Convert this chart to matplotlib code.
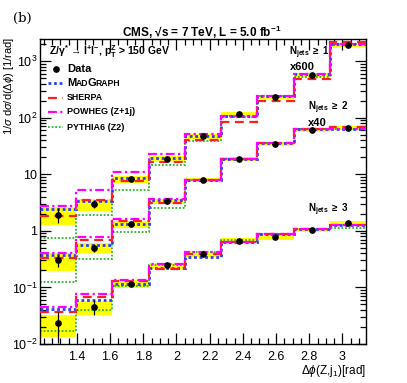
import numpy as np
import matplotlib.pyplot as plt
from matplotlib.ticker import MultipleLocator, LogLocator, NullFormatter

# bin edges in delta phi [rad]
edges = [1.178, 1.396, 1.614, 1.833, 2.051, 2.269, 2.487, 2.705, 2.923, 3.1416]

# Njets >= 1 (x600)
data1 = [1.94, 2.92, 8.1, 18.8, 47, 115, 233, 565, 1920]
unc1 = [0.35, 0.23, 0.13, 0.12, 0.10, 0.08, 0.08, 0.08, 0.08]
stat1 = [0.30, 0.15, 0.05, 0.04, 0.03, 0.03, 0.03, 0.03, 0.03]
mg1 = [2.38, 3.43, 8.7, 19, 47, 107, 243, 590, 2000]
sh1 = [1.79, 3.5, 7.6, 16.6, 41, 85, 193, 480, 2140]
pw1 = [2.7, 5.2, 11, 23, 52, 107, 243, 590, 2000]
py1 = [0.76, 1.87, 5.2, 14.3, 38.6, 104, 243, 513, 2000]

# Njets >= 2 (x40)
data2 = [0.30, 0.50, 1.32, 3.33, 7.8, 18.3, 33.7, 60.5, 66]
unc2 = [0.35, 0.20, 0.15, 0.10, 0.08, 0.08, 0.08, 0.08, 0.08]
stat2 = [0.25, 0.15, 0.06, 0.04, 0.03, 0.03, 0.03, 0.03, 0.03]
mg2 = [0.38, 0.57, 1.32, 3.5, 8.0, 18.3, 36, 64, 64]
sh2 = [0.33, 0.68, 1.48, 3.1, 8.0, 18.3, 36, 62, 68]
pw2 = [0.41, 0.78, 1.64, 3.7, 8.0, 18.3, 36, 62, 64]
py2 = [0.127, 0.32, 0.94, 2.55, 8.0, 18.3, 36, 62, 64]

# Njets >= 3
data3 = [0.0233, 0.0457, 0.116, 0.245, 0.39, 0.67, 0.77, 1.05, 1.38]
unc3 = [0.42, 0.28, 0.15, 0.12, 0.10, 0.10, 0.10, 0.08, 0.10]
stat3 = [0.55, 0.30, 0.08, 0.05, 0.04, 0.04, 0.04, 0.04, 0.04]
mg3 = [0.041, 0.059, 0.114, 0.22, 0.35, 0.63, 0.89, 1.09, 1.25]
sh3 = [0.037, 0.069, 0.131, 0.21, 0.39, 0.63, 0.89, 1.09, 1.25]
pw3 = [0.045, 0.076, 0.136, 0.26, 0.42, 0.63, 0.89, 1.09, 1.25]
py3 = [0.017, 0.040, 0.104, 0.245, 0.43, 0.70, 0.89, 1.09, 1.10]

xticks = [1.4, 1.6, 1.8, 2.0, 2.2, 2.4, 2.6, 2.8, 3.0]
xticklabels = ['1.4', '1.6', '1.8', '2', '2.2', '2.4', '2.6', '2.8', '3']
yticks = [0.01, 0.1, 1, 10, 100, 1000]
yticklabels = [r'$10^{-2}$', r'$10^{-1}$', '1', '10', r'$10^{2}$', r'$10^{3}$']

plt.rcParams['font.family'] = ['Liberation Sans', 'DejaVu Sans']
plt.rcParams['mathtext.fontset'] = 'custom'
plt.rcParams['mathtext.rm'] = 'Liberation Sans'
plt.rcParams['mathtext.it'] = 'Liberation Sans:italic'
plt.rcParams['mathtext.bf'] = 'Liberation Sans:bold'

W, H = 407, 383
fig = plt.figure(figsize=(W / 100, H / 100), dpi=100)
ax = fig.add_axes([40 / W, 1 - 344 / H, 326 / W, 305 / H])

c_mg = '#2a3cff'
c_sh = '#ff1e1e'
c_pw = '#ff00ff'
c_py = '#2bb52b'
ls_mg = (0, (1, 1))
ls_sh = (0, (4, 2.5))
ls_pw = (0, (4, 1.5, 1, 1.5))
ls_py = (0, (1, 1))

centers = 0.5 * (np.array(edges[1:]) + np.array(edges[:-1]))

for d, u, s, mg, sh, pw, py in [(data1, unc1, stat1, mg1, sh1, pw1, py1),
                                (data2, unc2, stat2, mg2, sh2, pw2, py2),
                                (data3, unc3, stat3, mg3, sh3, pw3, py3)]:
    d = np.array(d)
    u = np.array(u)
    s = np.array(s)
    # total uncertainty band
    ax.stairs(d * (1 + u), edges, baseline=d * (1 - u), fill=True,
              color='#ffff00', lw=0, zorder=1)
    ax.stairs(py, edges, baseline=None, color=c_py, lw=1.3, ls=ls_py, zorder=2)
    ax.stairs(mg, edges, baseline=None, color=c_mg, lw=2.0, ls=ls_mg, zorder=3)
    ax.stairs(sh, edges, baseline=None, color=c_sh, lw=1.6, ls=ls_sh, zorder=4)
    ax.stairs(pw, edges, baseline=None, color=c_pw, lw=1.6, ls=ls_pw, zorder=5)
    ax.errorbar(centers, d, yerr=[d * s, d * s], fmt='o', color='black',
                ms=3.8, elinewidth=0.9, capsize=0, zorder=6)

ax.set_yscale('log')
ax.set_xlim(edges[0], edges[-1])
ax.set_ylim(0.01, 2450)

ax.set_xticks(xticks)
ax.set_xticklabels(xticklabels)
ax.xaxis.set_minor_locator(MultipleLocator(0.05))
ax.set_yticks(yticks)
ax.set_yticklabels(yticklabels)
ax.yaxis.set_minor_locator(LogLocator(base=10, subs=np.arange(2, 10)))
ax.yaxis.set_minor_formatter(NullFormatter())
ax.tick_params(which='both', direction='in', top=True, right=True, labelsize=9, width=0.9)
ax.tick_params(which='major', length=8)
ax.tick_params(which='minor', length=4)
ax.tick_params(axis='x', pad=5)
ax.tick_params(axis='y', pad=2)
for sp in ax.spines.values():
    sp.set_linewidth(1.0)

fig.text(9 / W, 1 - 37 / H, r'1/$\sigma$ d$\sigma$/d($\Delta\phi$) [1/rad]',
         rotation=90, ha='center', va='top', fontsize=8)
fig.text(366 / W, 1 - 371 / H, r'$\Delta\phi$(Z,j$_{1}$)[rad]',
         ha='right', va='center', fontsize=8.5)

fig.text(13 / W, 1 - 18 / H, '(b)', family='DejaVu Serif', fontsize=9.5,
         ha='left', va='center')
fig.text(202 / W, 1 - 32 / H, 'CMS, \u221as = 7 TeV, L = 5.0 fb$^{\\mathbf{-1}}$',
         ha='center', va='center', fontsize=8.5, weight='bold')

# legend drawn by hand
fig.text(49 / W, 1 - 52 / H,
         'Z/$\\mathbf{\\gamma^{*}}$ \u2192 l$^{\\mathbf{+}}$l$^{\\mathbf{-}}$, '
         'p$_{\\mathbf{T}}^{\\mathbf{Z}}$ > 150 GeV',
         ha='left', va='center', fontsize=7.5, weight='bold')
rows = [69, 83, 98, 112, 127]
lx0, lx1 = 48 / W, 63 / W
fig.add_artist(plt.Line2D([56 / W], [1 - rows[0] / H], marker='o', color='black', ms=3.8))
for y, col, lw, ls in [(rows[1], c_mg, 2.0, ls_mg), (rows[2], c_sh, 1.6, ls_sh),
                       (rows[3], c_pw, 1.6, ls_pw), (rows[4], c_py, 1.3, ls_py)]:
    fig.add_artist(plt.Line2D([lx0, lx1], [1 - y / H] * 2, color=col, lw=lw, ls=ls))

tx = 67
fig.text(tx / W, 1 - rows[0] / H, 'Data', ha='left', va='center', fontsize=8, weight='bold')

# small caps MadGraph, pieces placed one after another
renderer = fig.canvas.get_renderer()
px = tx
base = 1 - (rows[1] + 3.5) / H
for piece, fs in [('M', 8), ('AD', 6.2), ('G', 8), ('RAPH', 6.2)]:
    t = fig.text(px / W, base, piece, ha='left', va='baseline', fontsize=fs, weight='bold')
    px += t.get_window_extent(renderer).width - 0.8

fig.text(tx / W, 1 - rows[2] / H, 'SHERPA', ha='left', va='center', fontsize=6.3, weight='bold')
fig.text(tx / W, 1 - rows[3] / H, 'POWHEG (Z+1j)', ha='left', va='center', fontsize=6.5, weight='bold')
fig.text(tx / W, 1 - rows[4] / H, 'PYTHIA6 (Z2)', ha='left', va='center', fontsize=6.5, weight='bold')

# multiplicity labels
njets = r'N$_{\mathbf{jets}}$ $\mathbf{\geq}$ '
fig.text(289 / W, 1 - 53 / H, njets + '1', ha='left', va='center', fontsize=7, weight='bold')
fig.text(290 / W, 1 - 67 / H, 'x600', ha='left', va='center', fontsize=8, weight='bold')
fig.text(308 / W, 1 - 108 / H, njets + '2', ha='left', va='center', fontsize=7, weight='bold')
fig.text(308 / W, 1 - 123 / H, 'x40', ha='left', va='center', fontsize=8, weight='bold')
fig.text(308 / W, 1 - 210 / H, njets + '3', ha='left', va='center', fontsize=7, weight='bold')

fig.savefig('out.png', dpi=100)
